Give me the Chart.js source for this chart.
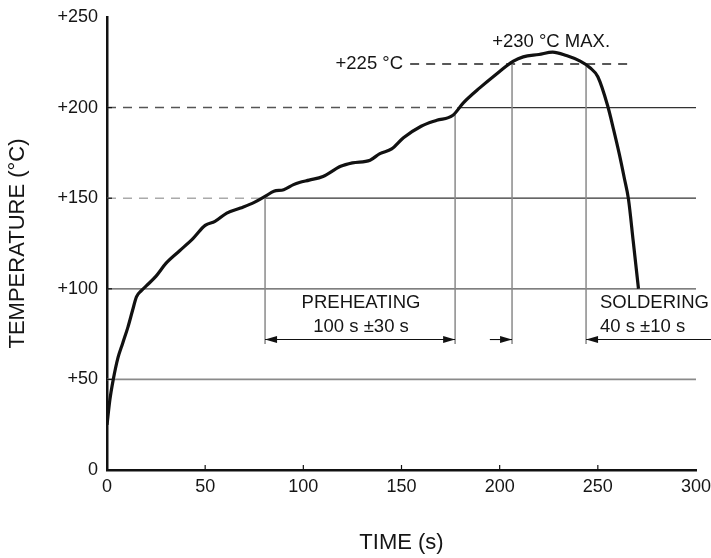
<!DOCTYPE html>
<html><head><meta charset="utf-8">
<script src="https://cdn.jsdelivr.net/npm/chart.js@4/dist/chart.umd.min.js"></script>
<style>html,body{margin:0;padding:0;background:#fff}</style>
</head><body>
<canvas id="c" width="711" height="558"></canvas>
<script>
// ---- data ----
const timeS = [0, 1.5, 3.2, 5.6, 8, 10.7, 13, 15, 17.5, 20, 25, 30, 37, 44, 50, 55, 61, 68, 75, 80.5, 85, 90, 95, 98, 103, 110, 119, 125, 134, 139, 145, 151, 160, 168, 176, 181.5, 190, 197, 207, 212, 220, 227, 234, 241, 246, 250, 255, 258, 261, 263.5, 265.6, 268, 270.7];
const tempC = [25, 39, 50, 62, 70, 79, 88, 95.5, 99, 101.6, 107, 114, 121, 128, 135, 137.2, 141.8, 144.6, 147.7, 151, 153.8, 154.7, 157.5, 158.7, 160, 162, 167.6, 169.5, 171, 174.6, 177.2, 183.3, 189.7, 193, 195.6, 202.6, 211, 217.3, 225.6, 228, 229.3, 230.6, 228.7, 225.6, 222, 217, 201, 188, 174, 161, 149.5, 126.5, 100];
const xTickValues = [0, 50, 100, 150, 200, 250, 300];
const yTickValues = [0, 50, 100, 150, 200, 250];
const yTickLabels = ['0', '+50', '+100', '+150', '+200', '+250'];
const xTitle = 'TIME (s)';
const yTitle = 'TEMPERATURE (°C)';
// annotation values (data units)
const preheatStart = 80.5, preheatEnd = 177.3;
const solderStart = 206.3, solderEnd = 244;
const limitLevel = 224, limitFrom = 154.4, limitTo = 265.4;
const dashed200End = 178.5;
const arrowLevel = 72, dropLevel = 69.5, preheatTopAtCurve = 196;
const annotTexts = [
  {text: '+230 °C MAX.', t: 226.2, T: 236.4, align: 'center'},
  {text: '+225 °C', t: 150.8, T: 224, align: 'right'},
  {text: 'PREHEATING', t: 129.4, T: 92.3, align: 'center'},
  {text: '100 s ±30 s', t: 129.4, T: 79.1, align: 'center'},
  {text: 'SOLDERING', t: 251.1, T: 92.3, align: 'left'},
  {text: '40 s ±10 s', t: 251.1, T: 79.1, align: 'left'}
];

const FONT = '"Liberation Sans", Arial, Helvetica, sans-serif';
const FS = 18;
const FS_ANN = 18.5;
const FS_TITLE = 22;

const annot = {
  id: 'annot',
  beforeDatasetsDraw(chart) {
    const {ctx, scales: {x, y}} = chart;
    const X = v => x.getPixelForValue(v), Y = v => y.getPixelForValue(v);
    const line = (t1, T1, t2, T2, color, w, dash) => {
      ctx.save(); ctx.strokeStyle = color; ctx.lineWidth = w; ctx.setLineDash(dash || []);
      ctx.beginPath(); ctx.moveTo(X(t1), Y(T1)); ctx.lineTo(X(t2), Y(T2)); ctx.stroke(); ctx.restore();
    };
    line(0, 50, 300, 50, '#8a8a8a', 1.6);
    line(0, 100, 300, 100, '#555', 1.2);
    line(0, 150, preheatStart, 150, '#aaa', 1.5, [9, 7]);
    line(preheatStart, 150, 300, 150, '#333', 1.2);
    line(0, 200, dashed200End, 200, '#555', 1.5, [9, 7]);
    line(dashed200End, 200, 300, 200, '#333', 1.2);
    line(limitFrom, limitLevel, limitTo, limitLevel, '#222', 1.5, [9, 7]);
    line(preheatStart, 150, preheatStart, dropLevel, '#8a8a8a', 1.5);
    line(preheatEnd, preheatTopAtCurve, preheatEnd, dropLevel, '#8a8a8a', 1.5);
    line(solderStart, limitLevel, solderStart, dropLevel, '#8a8a8a', 1.5);
    line(solderEnd, limitLevel, solderEnd, dropLevel, '#8a8a8a', 1.5);
    // inward tick marks
    ctx.save(); ctx.strokeStyle = '#111'; ctx.lineWidth = 1.2;
    xTickValues.slice(1, -1).forEach(v => { ctx.beginPath(); ctx.moveTo(X(v), Y(0)); ctx.lineTo(X(v), Y(0) - 5); ctx.stroke(); });
    yTickValues.slice(1, -1).forEach(v => { ctx.beginPath(); ctx.moveTo(X(0), Y(v)); ctx.lineTo(X(0) + 5, Y(v)); ctx.stroke(); });
    ctx.restore();
  },
  afterDatasetsDraw(chart) {
    const {ctx, scales: {x, y}} = chart;
    const X = v => x.getPixelForValue(v), Y = v => y.getPixelForValue(v);
    const ay = Y(arrowLevel);
    const seg = (x1, x2) => { ctx.beginPath(); ctx.moveTo(x1, ay); ctx.lineTo(x2, ay); ctx.stroke(); };
    const head = (tipX, dir) => { ctx.beginPath(); ctx.moveTo(tipX, ay); ctx.lineTo(tipX - dir * 12, ay - 3.5); ctx.lineTo(tipX - dir * 12, ay + 3.5); ctx.closePath(); ctx.fill(); };
    ctx.save(); ctx.strokeStyle = '#111'; ctx.fillStyle = '#111'; ctx.lineWidth = 1.1;
    seg(X(preheatStart), X(preheatEnd)); head(X(preheatStart), -1); head(X(preheatEnd), 1);
    seg(X(195), X(solderStart)); head(X(solderStart), 1);
    seg(chart.width, X(solderEnd)); head(X(solderEnd), -1);
    ctx.fillStyle = '#151515'; ctx.font = FS_ANN + 'px ' + FONT; ctx.textBaseline = 'middle';
    annotTexts.forEach(a => { ctx.textAlign = a.align; ctx.fillText(a.text, X(a.t), Y(a.T)); });
    ctx.restore();
  }
};

new Chart(document.getElementById('c'), {
  type: 'line',
  data: {
    datasets: [{
      data: timeS.map((t, i) => ({x: t, y: tempC[i]})),
      borderColor: '#111', borderWidth: 3.2, pointRadius: 0,
      cubicInterpolationMode: 'monotone', fill: false
    }]
  },
  options: {
    responsive: false, animation: false, devicePixelRatio: 1,
    layout: {padding: {top: 17, right: 15, left: 0, bottom: 0}},
    plugins: {legend: {display: false}, tooltip: {enabled: false}},
    scales: {
      x: {
        type: 'linear', min: 0, max: 300,
        afterBuildTicks: s => { s.ticks = xTickValues.map(v => ({value: v})); },
        ticks: {color: '#151515', font: {family: FONT, size: FS}, padding: 6, maxRotation: 0, callback: v => String(v)},
        grid: {display: false, drawTicks: false},
        border: {display: true, color: '#111', width: 2.5},
        title: {display: true, text: xTitle, color: '#151515', font: {family: FONT, size: FS_TITLE}, padding: {top: 0, bottom: 2}},
        afterFit: s => { s.height = 88; s.paddingLeft = 0; s.paddingRight = 0; }
      },
      y: {
        min: 0, max: 250,
        afterBuildTicks: s => { s.ticks = yTickValues.map(v => ({value: v})); },
        ticks: {color: '#151515', font: {family: FONT, size: FS}, padding: 9, callback: v => yTickLabels[yTickValues.indexOf(v)]},
        grid: {display: false, drawTicks: false},
        border: {display: true, color: '#111', width: 2.5},
        title: {display: true, text: yTitle, color: '#151515', font: {family: FONT, size: FS_TITLE}, padding: {top: 5, bottom: 0}},
        afterFit: s => { s.width = 107; s.paddingTop = 0; s.paddingBottom = 0; }
      }
    }
  },
  plugins: [annot]
});
</script>
</body></html>
